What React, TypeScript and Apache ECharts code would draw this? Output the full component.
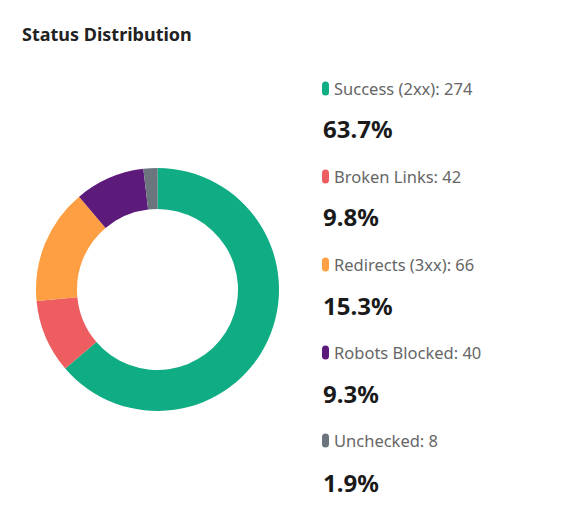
import { useRef, useEffect } from 'react'
import * as echarts from 'echarts'

// 数据
const statusNames = ['Success (2xx)', 'Broken Links', 'Redirects (3xx)', 'Robots Blocked', 'Unchecked']
const statusCounts = [274, 42, 66, 40, 8]
const statusColors = ['#10ac84', '#ee5d5f', '#ff9f43', '#5c1a7a', '#6c757d']

const total = statusCounts.reduce((a, b) => a + b, 0)
const FONT = '"Noto Sans", "Open Sans", sans-serif'

// 百分比行的纵向间隔
const ROW = 88.5

export default function App() {
  const cDom = useRef<HTMLDivElement>(null)

  useEffect(() => {
    if (!cDom.current) return
    const chart = echarts.init(cDom.current, null, { renderer: 'svg' })

    const pieData = statusNames.map((name, i) => ({
      name: `${name}: ${statusCounts[i]}`,
      value: statusCounts[i],
      itemStyle: { color: statusColors[i] },
    }))

    const options = {
      animation: false,
      backgroundColor: '#fff',
      title: {
        text: 'Status Distribution',
        left: 17,
        top: 20,
        textStyle: {
          fontFamily: FONT,
          fontSize: 18,
          fontWeight: 'bold',
          color: '#222',
        },
      },
      legend: {
        orient: 'vertical',
        left: 322,
        top: 80,
        padding: 0,
        itemWidth: 7,
        itemHeight: 14,
        itemGap: 71,
        icon: 'path://M3.5,0 a3.5,3.5 0 0 1 3.5,3.5 v7 a3.5,3.5 0 0 1 -7,0 v-7 a3.5,3.5 0 0 1 3.5,-3.5 z',
        selectedMode: false,
        textStyle: {
          fontFamily: FONT,
          fontSize: 16.5,
          color: '#666',
        },
        data: pieData.map((d) => d.name),
      },
      // 百分比
      graphic: statusCounts.map((v, i) => ({
        type: 'text',
        left: 323,
        top: 131 + i * ROW - 15,
        style: {
          text: ((v / total) * 100).toFixed(1) + '%',
          font: `bold 24px ${FONT}`,
          fill: '#1a1a1a',
        },
      })),
      series: [
        {
          type: 'pie',
          center: [157.5, 289.5],
          radius: [80.5, 121.5],
          startAngle: 90,
          clockwise: true,
          label: { show: false },
          labelLine: { show: false },
          emphasis: { disabled: true },
          data: pieData,
        },
      ],
    }

    chart.setOption(options as any)
    return () => {
      chart.dispose()
    }
  }, [])

  return (
    <div
      ref={cDom}
      style={{ position: 'fixed', left: 0, top: 0, width: 578, height: 521 }}
    ></div>
  )
}
